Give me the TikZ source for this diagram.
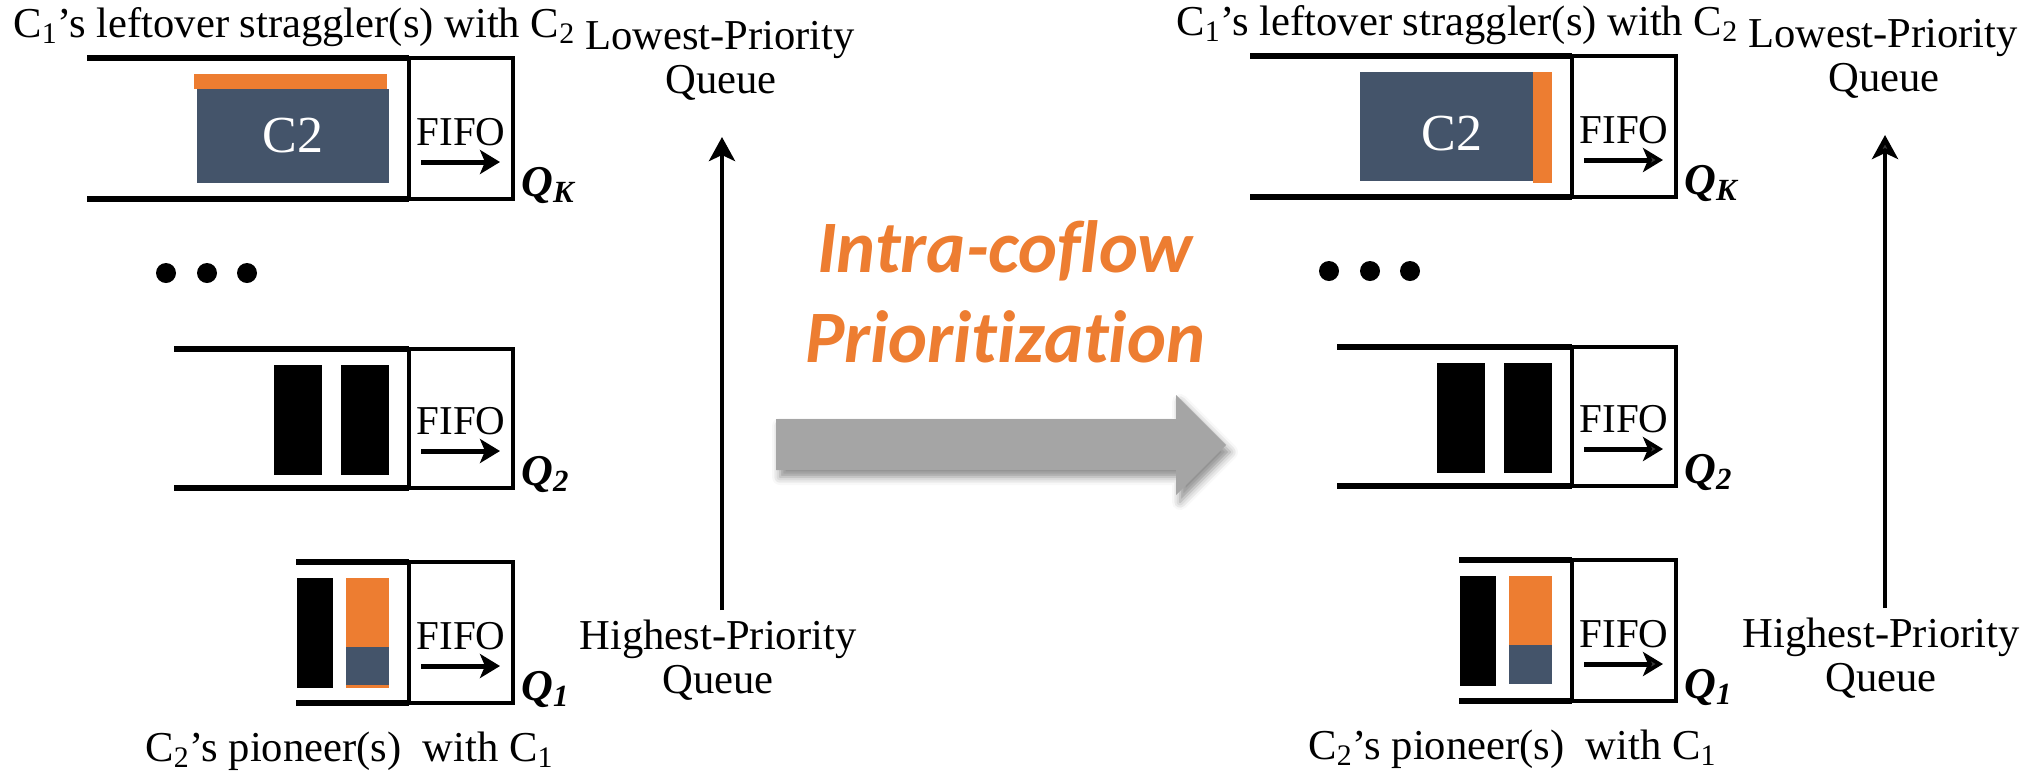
\documentclass[tikz,border=0pt]{standalone}
\usepackage{fontspec}
\setmainfont{Liberation Serif}
\newfontfamily\calfont[Ligatures=NoCommon]{Carlito}
\usetikzlibrary{arrows.meta,shadows.blur}
\definecolor{slate}{HTML}{44546A}
\definecolor{accent}{HTML}{ED7D31}
\definecolor{bigarrow}{HTML}{A5A5A5}
\tikzset{
  rail/.style={line width=2.8pt},
  fifobox/.style={draw,line width=2.3pt},
  fifotext/.style={inner sep=0pt,font=\fontsize{20.5}{21}\selectfont},
  fifoarrow/.style={line width=2.5pt,-{Stealth[length=10pt,width=12pt,inset=2.5pt]}},
  qlabel/.style={inner sep=0pt,font=\fontsize{22}{24}\selectfont\bfseries\itshape},
  caption/.style={inner sep=0pt,font=\fontsize{21.3}{22}\selectfont},
  prioarrow/.style={line width=2.4pt,-{Stealth[length=12pt,width=13pt,inset=3pt]}},
  dot/.style={fill=black},
  bar/.style={fill=black},
  titletext/.style={inner sep=0pt,text=accent,font=\calfont\fontsize{37}{40}\selectfont\bfseries\itshape}
}
% one queue: name, rail start x, top y, bottom y, label
\newcommand\onequeue[5]{%
  \draw[rail] (#2,#3) -- (409,#3) (#2,#4) -- (409,#4);
  \draw[fifobox] (409,#3) rectangle (513,#4);
  \node[fifotext,anchor=base] (#1-fifo) at (461,#4-54) {FIFO};
  \coordinate (#1-from) at (421,#4-37);
  \coordinate (#1-to) at (500,#4-37);
  \draw[fifoarrow] (#1-from) -- (#1-to);
  \node[qlabel,anchor=base west] (#1-q) at (521,#4-3) {Q\textsubscript{#5}};
}
% the parts shared by both queue columns
\newcommand\queuecolumn[1]{%
  \onequeue{#1K}{87}{58}{199}{K}
  \onequeue{#1Q2}{174}{349}{488}{2}
  \onequeue{#1Q1}{296}{562}{703}{1}
  % ellipsis
  \fill[dot] (166,273) circle[radius=5pt] (207,273) circle[radius=5pt] (247,273) circle[radius=5pt];
  % packets in Q2
  \fill[bar] (274,365) rectangle (322,475);
  \fill[bar] (341,365) rectangle (389,475);
  % packets in Q1
  \fill[bar] (297,578) rectangle (333,688);
  \fill[accent] (346,578) rectangle (389,647);
  \fill[slate] (346,647) rectangle (389,686);
  % captions
  \node[caption,anchor=base west] (#1-straggler) at (13,37)
    {C\textsubscript{1}’s leftover straggler(s) with C\textsubscript{2}};
  \node[caption,anchor=base west] (#1-pioneer) at (145,761)
    {C\textsubscript{2}’s pioneer(s)\ \ with C\textsubscript{1}};
  \node[caption,anchor=base] (#1-low) at (720,49) {Lowest-Priority};
  \node[caption,anchor=base] (#1-lowq) at (721,93) {Queue};
  \node[caption,anchor=base] (#1-high) at (718,649) {Highest-Priority};
  \node[caption,anchor=base] (#1-highq) at (718,693) {Queue};
  \coordinate (#1-up0) at (722,610);
  \coordinate (#1-up1) at (722,137);
  \draw[prioarrow] (#1-up0) -- (#1-up1);
}
\begin{document}
\begin{tikzpicture}[x=0.5pt,y=-0.5pt]
\useasboundingbox (0,0) rectangle (2038,773);

% before: the straggler C2 flow sits across the top of Q_K
\queuecolumn{L}
\fill[accent] (194,74) rectangle (387,89);
\fill[slate] (197,89) rectangle (389,183);
\node[inner sep=0pt,text=white,font=\fontsize{26}{28}\selectfont] (L-c2) at (293,136) {C2};
\fill[accent] (346,685) rectangle (389,688);

% transition arrow with its title
\path[fill=bigarrow,blur shadow={shadow xshift=2pt,shadow yshift=-3.5pt,shadow blur radius=4pt,shadow opacity=45}]
  (776,419) -- (1176,419) -- (1176,395) -- (1226,445) -- (1176,495) -- (1176,470) -- (776,470) -- cycle;
\node[titletext,anchor=base] (title1) at (1005,272) {Intra-coflow};
\node[titletext,anchor=base] (title2) at (1005,362) {Prioritization};

% after: the straggler is reordered behind C2
\begin{scope}[shift={(1163,-2)}]
\queuecolumn{R}
\fill[slate] (197,74) rectangle (370,183);
\fill[accent] (370,74) rectangle (389,185);
\node[inner sep=0pt,text=white,font=\fontsize{26}{28}\selectfont] (R-c2) at (289,136) {C2};
\end{scope}
\end{tikzpicture}
\end{document}
